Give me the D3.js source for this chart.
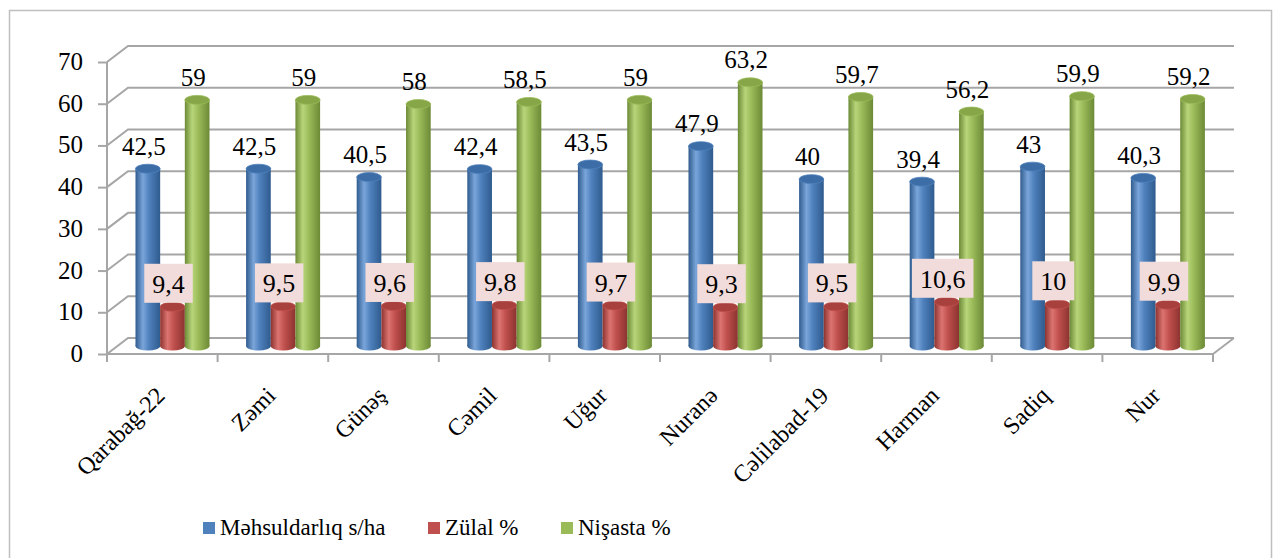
<!DOCTYPE html>
<html>
<head>
<meta charset="utf-8">
<script src="https://cdn.jsdelivr.net/npm/d3@7"></script>
</head>
<body style="margin:0; background:#fff">
<div id="chart"></div>
<script>
// data
var categories = ["Qarabağ-22", "Zəmi", "Günəş", "Cəmil", "Uğur", "Nuranə", "Cəlilabad-19", "Harman", "Sadiq", "Nur"];
var mehsuldarliq = [42.5, 42.5, 40.5, 42.4, 43.5, 47.9, 40, 39.4, 43, 40.3];
var zulal = [9.4, 9.5, 9.6, 9.8, 9.7, 9.3, 9.5, 10.6, 10, 9.9];
var nisasta = [59, 59, 58, 58.5, 59, 63.2, 59.7, 56.2, 59.9, 59.2];
var seriesNames = ["Məhsuldarlıq s/ha", "Zülal %", "Nişasta %"];
var yTicks = [0, 10, 20, 30, 40, 50, 60, 70];

var seriesVals = [mehsuldarliq, zulal, nisasta];
var palette = [
    { base: "#4F81BD", light: "#7AA5DA", dark: "#2F5B8E", top: "#3D6DA6" },
    { base: "#C0504D", light: "#DC7471", dark: "#8C3330", top: "#A8403D" },
    { base: "#9BBB59", light: "#B8D57A", dark: "#6C8A36", top: "#86A647" }
];

var W = 1277, H = 558;
var depthX = 21, depthY = -16;
var gridColor = "#A6A6A6";
var FONT = "Liberation Serif";

function fmt(v) { return String(v).replace(".", ","); }
// rough width of a number string in a Times-like font (digits 0.5em, comma 0.25em)
function numWidth(s, size) {
    var w = 0;
    for (var i = 0; i < s.length; i++) w += (s[i] === "," ? 0.25 : 0.5);
    return w * size;
}
// all labels are placed with a transform (plain x/y lost the serif font)
function label(px, py, str, size, anchor, rot) {
    return svg.append("text")
        .attr("transform", "translate(" + px + "," + py + ")" + (rot ? " rotate(" + rot + ")" : ""))
        .attr("text-anchor", anchor || "start")
        .attr("font-family", FONT)
        .attr("font-size", size)
        .text(str);
}

var svg = d3.select("#chart").append("svg")
    .attr("width", W)
    .attr("height", H);

// outer frame
svg.append("rect")
    .attr("x", 9.5).attr("y", 10.5)
    .attr("width", 1262).attr("height", 560)
    .attr("fill", "none")
    .attr("stroke", "#BFBFBF")
    .attr("stroke-width", 1.5);

var x = d3.scaleBand()
    .domain(categories)
    .range([107, 1213])
    .padding(0);

var y = d3.scaleLinear()
    .domain([0, 70])
    .range([354, 62]);

var xs = d3.scaleBand()
    .domain(d3.range(3))
    .range([18, 92]);

// gradients for cylinders
var defs = svg.append("defs");
palette.forEach(function (p, i) {
    var g = defs.append("linearGradient")
        .attr("id", "cyl" + i)
        .attr("x1", "0").attr("x2", "1").attr("y1", "0").attr("y2", "0");
    g.append("stop").attr("offset", "0%").attr("stop-color", p.dark);
    g.append("stop").attr("offset", "30%").attr("stop-color", p.light);
    g.append("stop").attr("offset", "55%").attr("stop-color", p.base);
    g.append("stop").attr("offset", "100%").attr("stop-color", p.dark);
});

// back wall / side wall grid
var grid = svg.append("g").attr("stroke", gridColor).attr("stroke-width", 2).attr("fill", "none");
yTicks.forEach(function (t) {
    var yy = y(t);
    grid.append("path")
        .attr("d", "M" + x.range()[0] + "," + yy +
            "L" + (x.range()[0] + depthX) + "," + (yy + depthY) +
            "L" + (x.range()[1] + depthX) + "," + (yy + depthY));
});
// floor right edge
grid.append("path")
    .attr("d", "M" + x.range()[1] + "," + y(0) + "L" + (x.range()[1] + depthX) + "," + (y(0) + depthY));

// y axis (lines from d3, labels drawn separately below)
var yAxis = svg.append("g")
    .attr("transform", "translate(" + x.range()[0] + ",0)")
    .call(d3.axisLeft(y).tickValues(yTicks).tickSize(9).tickFormat(""));
yAxis.selectAll("line,path").attr("stroke", gridColor).attr("stroke-width", 2);
yAxis.select(".domain").attr("d", "M0," + y(70) + "V" + y(0));
yAxis.selectAll("text").remove();

// x axis (front floor edge)
var xAxis = svg.append("g")
    .attr("transform", "translate(0," + y(0) + ")");
xAxis.append("line")
    .attr("x1", x.range()[0]).attr("x2", x.range()[1])
    .attr("stroke", gridColor).attr("stroke-width", 2);
var bounds = categories.map(function (c) { return x(c); }).concat([x.range()[1]]);
xAxis.selectAll(".xt").data(bounds).enter().append("line")
    .attr("x1", function (d) { return d; }).attr("x2", function (d) { return d; })
    .attr("y1", 0).attr("y2", 8)
    .attr("stroke", gridColor).attr("stroke-width", 2);

// cylinders
var ry = 4.5;
var bars = svg.append("g");
categories.forEach(function (c, ci) {
    seriesVals.forEach(function (vals, si) {
        var v = vals[ci];
        var bx = x(c) + depthX / 2 + xs(si);
        var bw = xs.bandwidth();
        var cx = bx + bw / 2;
        var yTop = y(v) + depthY / 2;
        var yBot = y(0) + depthY / 2;
        var p = palette[si];
        var g = bars.append("g");
        g.append("ellipse")
            .attr("cx", cx).attr("cy", yBot)
            .attr("rx", bw / 2).attr("ry", ry)
            .attr("fill", "url(#cyl" + si + ")");
        g.append("rect")
            .attr("x", bx).attr("y", yTop)
            .attr("width", bw).attr("height", yBot - yTop)
            .attr("fill", "url(#cyl" + si + ")");
        g.append("ellipse")
            .attr("cx", cx).attr("cy", yTop)
            .attr("rx", bw / 2).attr("ry", ry)
            .attr("fill", p.top)
            .attr("stroke", p.base)
            .attr("stroke-width", 0.8);
    });
});

// pink boxes behind the protein labels
var boxes = svg.append("g");
categories.forEach(function (c, ci) {
    var vz = zulal[ci];
    var zx = x(c) + depthX / 2 + xs(1) + xs.bandwidth() / 2 - 4;
    var boxBottom = y(vz) + depthY / 2 - 4;
    var tw = numWidth(fmt(vz), 26);
    boxes.append("rect")
        .attr("x", zx - tw / 2 - 8)
        .attr("y", boxBottom - 39)
        .attr("width", tw + 16)
        .attr("height", 39)
        .attr("fill", "#F2DCDB");
});

// legend swatches
var legendX = [203, 428, 561];
var legend = svg.append("g");
seriesNames.forEach(function (name, i) {
    legend.append("rect")
        .attr("x", legendX[i]).attr("y", 522)
        .attr("width", 12).attr("height", 12)
        .attr("fill", palette[i].base);
});

// ---- text ----

// y tick labels
yTicks.forEach(function (t) {
    label(83, y(t) + 8, t, 25, "end");
});

// category labels
categories.forEach(function (c) {
    label(x(c) + x.bandwidth() / 2 + 4, 397, c, 24, "end", -45);
});

// value labels
categories.forEach(function (c, ci) {
    [0, 2].forEach(function (si) {
        var v = seriesVals[si][ci];
        var cx = x(c) + depthX / 2 + xs(si) + xs.bandwidth() / 2 - 4;
        label(cx, y(v) + depthY / 2 - 14, fmt(v), 25, "middle");
    });
    var vz = zulal[ci];
    var zx = x(c) + depthX / 2 + xs(1) + xs.bandwidth() / 2 - 4;
    var boxBottom = y(vz) + depthY / 2 - 4;
    label(zx, boxBottom - 10, fmt(vz), 26, "middle");
});

// legend text
seriesNames.forEach(function (name, i) {
    label(legendX[i] + 17, 535, name, 23, "start");
});
</script>
</body>
</html>
